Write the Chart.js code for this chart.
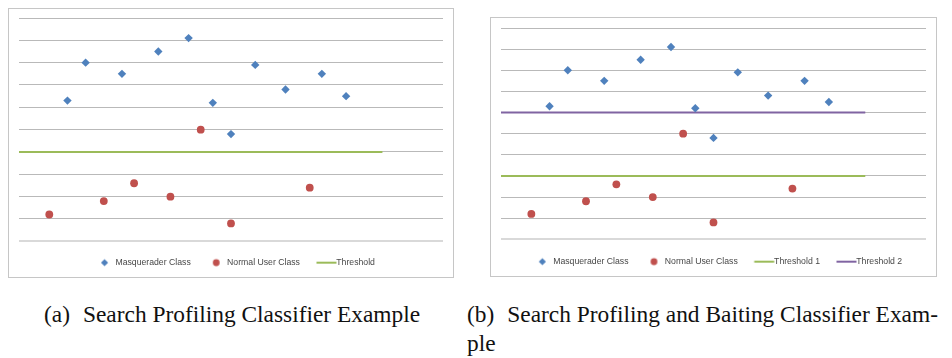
<!DOCTYPE html>
<html>
<head>
<meta charset="utf-8">
<script src="https://cdn.jsdelivr.net/npm/chart.js@4/dist/chart.umd.min.js"></script>
<style>
  html, body { margin: 0; padding: 0; background: #fff; }
  body { width: 952px; height: 358px; position: relative; overflow: hidden; }
  .panel { position: absolute; border: 1px solid #c6c6c6; }
  .panel canvas { display: block; }
  .cap {
    position: absolute;
    font-family: "Liberation Serif", "Times New Roman", serif;
    font-size: 23.4px;
    line-height: 29px;
    color: #111;
    white-space: pre;
  }
  .cap .gap { display: inline-block; width: 13px; }
</style>
</head>
<body>
<div class="panel" style="left:8px;top:8px;width:444px;height:268px"><canvas id="chartA" width="444" height="268"></canvas></div>
<div class="panel" style="left:490px;top:17px;width:445px;height:258px"><canvas id="chartB" width="445" height="258"></canvas></div>
<div class="cap" style="left:44px;top:300px">(a)<span class="gap"></span>Search Profiling Classifier Example</div>
<div class="cap" style="left:467px;top:300px">(b)<span class="gap"></span>Search Profiling and Baiting Classifier Exam-
ple</div>

<script>
// Scores of the search sessions (x = session index, y = classifier score)
const masqueraderX = [8, 11, 17, 23, 28, 32, 35, 39, 44, 50, 54];
const masqueraderY = [6.3, 8.0, 7.5, 8.5, 9.1, 6.2, 4.8, 7.9, 6.8, 7.5, 6.5];
const normalUserX = [5, 14, 19, 25, 30, 35, 48];
const normalUserY = [1.2, 1.8, 2.6, 2.0, 5.0, 0.8, 2.4];

// Decision thresholds and the x range they span
const thresholdSearch = 4;
const threshold1 = 3;
const threshold2 = 6;
const thresholdXRange = [0, 60];

// Axis extents
const xRange = [0, 70];
const yRange = [0, 10];

const BLUE = '#4F81BD', RED = '#C0504D', GREEN = '#9BBB59', PURPLE = '#8064A2';

function points(xs, ys) { return xs.map((x, i) => ({ x, y: ys[i] })); }
function hLine(value) { return thresholdXRange.map(x => ({ x, y: value })); }

// Small legend glyphs in the Office style: marker or short line sample
function legendGlyph(kind, color) {
  const c = document.createElement('canvas');
  c.width = 40; c.height = 10;
  const g = c.getContext('2d');
  g.fillStyle = color;
  if (kind === 'diamond') {
    const cx = 25.5, cy = 5, r = 3.6;
    g.beginPath();
    g.moveTo(cx, cy - r); g.lineTo(cx + r, cy); g.lineTo(cx, cy + r); g.lineTo(cx - r, cy);
    g.closePath(); g.fill();
  } else if (kind === 'circle') {
    g.beginPath(); g.arc(25.5, 5, 3.4, 0, Math.PI * 2); g.fill();
  } else {
    g.fillRect(16.5, 4, 20, 2);
  }
  return c;
}

function makeChart(id, datasets, glyphs, topGap, bottomGap) {
  return new Chart(document.getElementById(id), {
    type: 'scatter',
    data: { datasets },
    options: {
      responsive: false,
      devicePixelRatio: 1,
      animation: false,
      events: [],
      layout: { padding: { left: 10, right: 10, top: topGap, bottom: 0 } },
      scales: {
        x: {
          type: 'linear', min: xRange[0], max: xRange[1],
          grid: { display: false }, border: { display: false },
          ticks: { display: false },
          afterFit(scale) { scale.height = bottomGap; }
        },
        y: {
          min: yRange[0], max: yRange[1],
          ticks: { display: false, stepSize: 1 },
          border: { display: false },
          grid: {
            drawTicks: false,
            color: c => (c.tick && c.tick.value === 0) ? '#d9d9d9' : '#b9b9b9',
            lineWidth: c => (c.tick && c.tick.value === 0) ? 2 : 1
          },
          afterFit(scale) { scale.width = 0; }
        }
      },
      plugins: {
        tooltip: { enabled: false },
        legend: {
          position: 'bottom',
          labels: {
            usePointStyle: true,
            pointStyleWidth: 24,
            padding: 8,
            color: '#474747',
            font: { family: '"Liberation Sans", Arial, sans-serif', size: 8.7 },
            generateLabels(chart) {
              const items = Chart.defaults.plugins.legend.labels.generateLabels(chart);
              items.sort((a, b) => a.datasetIndex - b.datasetIndex);
              return items.map(it => Object.assign(it, { pointStyle: glyphs[it.datasetIndex] }));
            }
          }
        }
      }
    }
  });
}

const masqueraderSet = () => ({
  label: 'Masquerader Class', data: points(masqueraderX, masqueraderY),
  pointStyle: 'rectRot', pointRadius: 4.2, pointHoverRadius: 4.2,
  backgroundColor: BLUE, borderColor: BLUE, borderWidth: 0
});
const normalSet = () => ({
  label: 'Normal User Class', data: points(normalUserX, normalUserY),
  pointStyle: 'circle', pointRadius: 3.9, pointHoverRadius: 3.9,
  backgroundColor: RED, borderColor: RED, borderWidth: 0
});
const lineSet = (label, value, color) => ({
  label, data: hLine(value), showLine: true,
  pointRadius: 0, pointHoverRadius: 0,
  borderColor: color, backgroundColor: color, borderWidth: 2
});

makeChart('chartA', [
  masqueraderSet(), normalSet(), lineSet('Threshold', thresholdSearch, GREEN)
], [legendGlyph('diamond', BLUE), legendGlyph('circle', RED), legendGlyph('line', GREEN)], 9, 9);

makeChart('chartB', [
  masqueraderSet(), normalSet(),
  lineSet('Threshold 1', threshold1, GREEN), lineSet('Threshold 2', threshold2, PURPLE)
], [legendGlyph('diamond', BLUE), legendGlyph('circle', RED), legendGlyph('line', GREEN), legendGlyph('line', PURPLE)], 10, 10);
</script>
</body>
</html>
